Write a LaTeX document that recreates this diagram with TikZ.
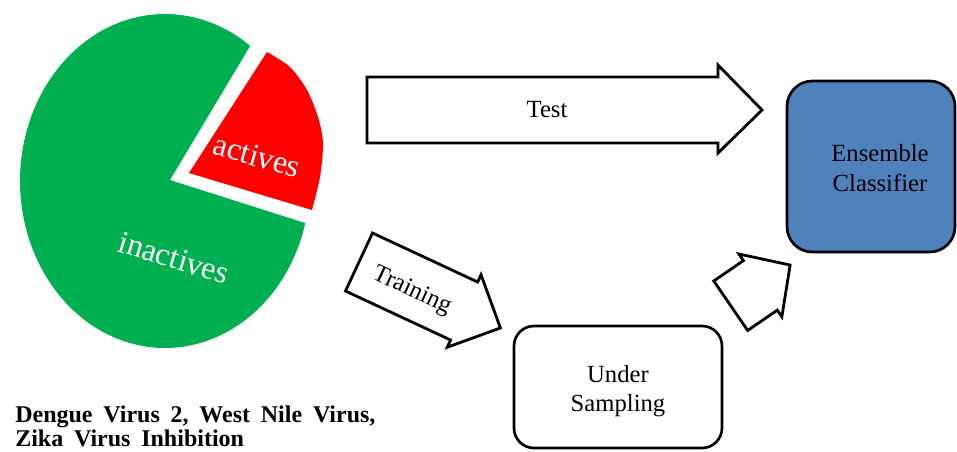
\documentclass[tikz,border=0pt]{standalone}
\usepackage{fontspec}
\setmainfont{Liberation Serif}
\definecolor{pgreen}{HTML}{00B050}
\definecolor{pred}{HTML}{FF0000}
\definecolor{pblue}{HTML}{4F81BD}
\begin{document}
\begin{tikzpicture}[x=0.75pt,y=-0.75pt,
  blockarrow/.style={draw=black, fill=white, line width=2.1pt, line join=miter},
  box/.style={draw=black, line width=2pt, rectangle, inner sep=0pt},
  lbl/.style={font=\fontsize{18.5}{22}\selectfont, align=center, inner sep=0pt},
  pielbl/.style={text=white, font=\fontsize{24}{28}\selectfont, inner sep=0pt},
  caption/.style={anchor=base west, inner sep=0pt, font={\fontsize{18}{22}\selectfont\bfseries\spaceskip=0.45em\relax}}]
\useasboundingbox (0,0) rectangle (957,451);
% pie chart
\fill[pgreen] (170,180) -- plot[domain=14.6:306, samples=150] ({165+145*cos(\x)},{181+167*sin(\x)}) -- cycle;
\fill[pred] (189,173) -- plot[smooth] coordinates {(312,210) (320,177) (323,143) (318,117) (307,90) (290,67) (267,52)} -- cycle;
\node[pielbl, rotate=-16] (act) at (257,156) {actives};
\node[pielbl, rotate=-17] (inact) at (174,258) {inactives};
% Test arrow
\draw[blockarrow] (367,77) -- (718,77) -- (718,65) -- (762,110) -- (718,153) -- (718,143) -- (367,143) -- cycle;
\node[lbl] (test) at (547,110) {Test};
% Training arrow
\begin{scope}[shift={(359,262)}, rotate=-25]
\draw[blockarrow] (0,-32) -- (116,-32) -- (116,-40) -- (156,0) -- (116,40) -- (116,32) -- (0,32) -- cycle;
\node[lbl, rotate=-25] (train) at (60,4) {Training};
\end{scope}
% arrow to ensemble
\begin{scope}[shift={(730.7,305.7)}, rotate=34.4]
\draw[blockarrow] (0,-30) -- (36,-30) -- (36,-38) -- (72,0) -- (36,38) -- (36,30) -- (0,30) -- cycle;
\end{scope}
% boxes
\node[box, rounded corners=15pt, fill=white, minimum width=156pt, minimum height=91.5pt] (under) at (618,387) {};
\node[lbl] (undertext) at (618,391) {Under\\Sampling};
\node[box, rounded corners=19pt, fill=pblue, minimum width=126pt, minimum height=128.25pt] (ens) at (871,166.5) {};
\node[lbl] (enstext) at (880,168) {Ensemble\\Classifier};
% caption
\node[caption] (cap1) at (15,422) {Dengue Virus 2, West Nile Virus,};
\node[caption] (cap2) at (15,446) {Zika Virus Inhibition};
\end{tikzpicture}
\end{document}
